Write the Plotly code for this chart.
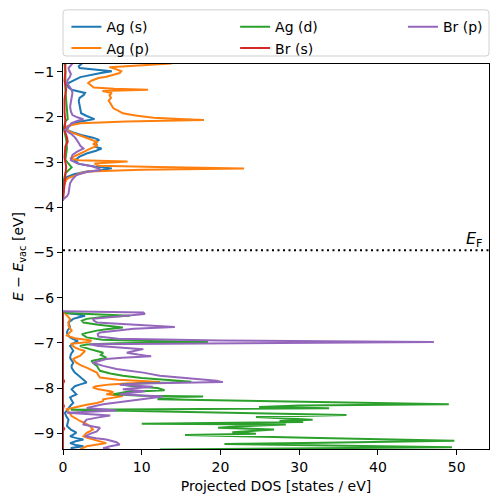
import plotly.graph_objects as go

# ---------------- data (energy in eV, DOS in states/eV) ----------------
# None marks the empty gap between the conduction and valence windows
ag_s_energy = [-0.82, -0.88, -0.92, -0.96, -0.99, -1.03, -1.07, -1.12, -1.18, -1.24, -1.29, -1.35, -1.40, -1.44,
               -1.47, -1.52, -1.58, -1.65, -1.73, -1.82, -1.92, -1.98, -2.05, -2.09, -2.14, -2.22, -2.29, -2.34,
               -2.40, -2.46, -2.51, -2.56, -2.62, -2.66, -2.70, -2.75, -2.81, -2.88, -2.96, -3.04, -3.10, -3.14,
               -3.18, -3.21, -3.27, -3.33, -3.45, -3.55, -3.70, -3.85, -5.00,
               -6.30, -6.34, -6.37, -6.40, -6.44, -6.47, -6.55, -6.60, -6.66, -6.72, -6.77, -6.83, -6.88, -6.92,
               -6.96, -7.00, -7.07, -7.12, -7.18, -7.25, -7.33, -7.39, -7.44, -7.50, -7.55, -7.61, -7.66, -7.73,
               -7.81, -7.88, -7.92, -7.96, -8.03, -8.09, -8.14, -8.18, -8.21, -8.27, -8.33, -8.38, -8.44, -8.50,
               -8.55, -8.62, -8.70, -8.77, -8.84, -8.92, -8.99, -9.03, -9.07, -9.11, -9.14, -9.18, -9.22, -9.26,
               -9.29, -9.33, -9.36]
ag_s_dos = [2.4, 2.0, 2.1, 4.5, 6.2, 4.8, 3.4, 2.2, 1.5, 0.8, 0.5, 0.7, 1.1, 2.0,
            2.8, 2.6, 2.1, 2.0, 2.1, 2.2, 2.3, 3.0, 4.0, 2.6, 1.2, 0.7, 0.5, 1.2,
            2.3, 3.8, 4.6, 4.1, 4.3, 4.0, 4.9, 4.2, 3.0, 2.1, 1.5, 2.0, 4.0, 6.2,
            4.8, 3.0, 1.4, 0.5, 0.2, 0.1, 0.0, 0.0, None,
            0.0, 0.3, 1.8, 2.8, 1.9, 1.3, 0.7, 0.8, 0.9, 0.6, 0.5, 0.6, 0.9, 1.3,
            1.9, 1.4, 0.9, 1.1, 1.3, 1.0, 0.9, 1.1, 1.3, 1.1, 1.1, 1.3, 1.5, 2.0,
            2.6, 3.0, 2.2, 1.5, 1.1, 1.4, 1.7, 1.2, 0.9, 1.1, 1.3, 1.0, 0.7, 0.4,
            0.25, 0.4, 0.7, 0.6, 0.5, 1.0, 1.7, 1.3, 0.9, 1.7, 2.6, 1.6, 0.9, 1.6,
            2.6, 1.0, 1.3]

ag_p_energy = [-0.82, -0.86, -0.90, -0.95, -0.99, -1.03, -1.07, -1.11, -1.14, -1.20, -1.25, -1.30, -1.35, -1.38,
               -1.40, -1.43, -1.47, -1.52, -1.58, -1.64, -1.70, -1.76, -1.81, -1.86, -1.92, -1.97, -2.02, -2.05,
               -2.07, -2.10, -2.14, -2.20, -2.25, -2.31, -2.36, -2.44, -2.51, -2.56, -2.60, -2.64, -2.69, -2.73,
               -2.77, -2.81, -2.86, -2.92, -2.96, -2.99, -3.03, -3.08, -3.11, -3.14, -3.17, -3.21, -3.26, -3.29,
               -3.35, -3.40, -3.55, -3.70, -3.85, -5.00,
               -6.30, -6.35, -6.40, -6.47, -6.55, -6.62, -6.68, -6.73, -6.78, -6.84, -6.90, -6.95, -6.98, -7.02,
               -7.06, -7.10, -7.14, -7.18, -7.23, -7.29, -7.33, -7.36, -7.44, -7.50, -7.55, -7.60, -7.66, -7.72,
               -7.77, -7.82, -7.85, -7.87, -7.90, -7.92, -7.96, -7.99, -8.03, -8.07, -8.10, -8.14, -8.18, -8.22,
               -8.25, -8.29, -8.33, -8.37, -8.40, -8.44, -8.47, -8.52, -8.57, -8.62, -8.67, -8.73, -8.78, -8.84,
               -8.88, -8.92, -8.96, -8.99, -9.03, -9.07, -9.11, -9.14, -9.18, -9.22, -9.25, -9.29, -9.33, -9.36]
ag_p_dos = [13.8, 9.0, 5.9, 6.8, 7.4, 7.2, 6.4, 5.5, 4.5, 3.6, 3.2, 3.5, 3.9, 6.5,
            10.8, 5.0, 6.2, 5.9, 6.1, 5.8, 6.0, 6.2, 6.4, 7.0, 7.6, 9.2, 11.5, 15.5,
            17.9, 8.0, 2.2, 0.6, 0.25, 0.7, 1.3, 2.6, 3.6, 4.4, 3.8, 4.4, 3.6, 3.2,
            2.7, 2.2, 1.5, 0.9, 2.0, 8.2, 4.0, 4.5, 12.0, 23.0, 10.0, 3.2, 2.0, 1.7,
            0.7, 0.4, 0.05, 0.0, 0.0, None,
            0.0, 0.25, 0.5, 0.9, 0.7, 0.7, 0.9, 1.1, 0.8, 0.5, 1.5, 3.6, 3.4, 1.1,
            1.2, 1.5, 2.0, 2.8, 2.5, 2.15, 1.6, 1.3, 1.7, 2.3, 3.0, 3.6, 4.3, 4.5,
            4.7, 7.0, 10.5, 12.3, 8.0, 6.0, 4.2, 3.8, 4.5, 6.0, 6.4, 5.5, 7.6, 6.2,
            5.1, 5.1, 4.3, 3.0, 2.15, 1.2, 0.5, 0.7, 0.9, 1.1, 1.6, 2.15, 2.8, 3.4,
            3.6, 3.8, 3.4, 3.0, 2.8, 2.6, 3.2, 3.8, 4.7, 5.5, 4.4, 3.0, 2.5, 2.15]

ag_d_energy = [-0.82, -1.00, -1.40, -2.05, -2.10, -2.25, -2.50, -2.70, -2.95, -3.05, -3.12, -3.18, -3.25,
               -3.40, -3.60, -3.85, -5.00,
               -6.30, -6.34, -6.37, -6.40, -6.43, -6.47, -6.51, -6.55, -6.60, -6.63, -6.66, -6.70, -6.73,
               -6.78, -6.81, -6.88, -6.93, -6.96, -6.98, -7.01, -7.04, -7.07, -7.10, -7.14, -7.18, -7.22,
               -7.27, -7.33, -7.37, -7.40, -7.46, -7.51, -7.57, -7.62, -7.68, -7.73, -7.78, -7.81, -7.84,
               -7.86, -7.89, -7.92, -7.96, -8.00, -8.05, -8.09, -8.14, -8.17, -8.19, -8.21, -8.25, -8.30,
               -8.36, -8.39, -8.42, -8.45, -8.48, -8.52, -8.56, -8.60, -8.64, -8.70, -8.73, -8.75, -8.79,
               -8.81, -8.85, -8.88, -8.92, -8.98, -9.01, -9.04, -9.10, -9.17, -9.21, -9.24, -9.28, -9.31,
               -9.34, -9.36]
ag_d_dos = [0.2, 0.3, 0.3, 0.6, 0.3, 0.1, 0.4, 0.5, 0.3, 0.8, 1.1, 0.7, 0.3,
            0.1, 0.0, 0.0, None,
            0.0, 0.5, 4.0, 8.5, 5.0, 3.0, 2.4, 2.6, 4.5, 6.5, 7.6, 5.5, 4.3,
            3.0, 2.4, 3.0, 5.0, 11.0, 18.4, 7.0, 3.0, 2.15, 2.6, 3.4, 4.3, 5.1,
            4.8, 5.5, 4.5, 3.6, 3.9, 4.3, 4.5, 4.7, 6.0, 7.6, 10.0, 12.3, 15.0,
            16.3, 11.0, 7.4, 8.8, 12.0, 12.9, 8.0, 6.4, 10.0, 17.8, 13.5, 12.0, 29.0,
            49.0, 30.0, 24.9, 33.8, 1.0, 12.7, 24.0, 36.0, 24.5, 31.7, 27.5, 30.5, 10.0,
            28.3, 22.0, 19.7, 26.8, 21.5, 24.5, 15.5, 31.0, 49.7, 33.0, 20.5, 36.0, 49.4,
            28.0, 12.3]

br_s_energy = [-0.82, -1.00, -1.20, -1.40, -1.60, -1.90, -2.10, -2.30, -2.45, -2.55, -2.65, -2.90, -3.10,
               -3.30, -3.50, -3.70, -3.85, -5.00,
               -6.30, -7.80, -7.85, -7.90, -8.35, -8.40, -8.45, -8.85, -8.90, -8.95, -9.36]
br_s_dos = [0.3, 0.3, 0.2, 0.4, 0.2, 0.2, 0.3, 0.2, 0.5, 0.6, 0.3, 0.2, 0.4,
            0.3, 0.2, 0.1, 0.0, None,
            0.0, 0.0, 0.15, 0.0, 0.0, 0.12, 0.0, 0.0, 0.15, 0.0, 0.0]

br_p_energy = [-0.82, -0.86, -0.92, -0.98, -1.05, -1.11, -1.18, -1.25, -1.32, -1.40, -1.47, -1.55, -1.65,
               -1.77, -1.88, -1.96, -2.01, -2.05, -2.09, -2.14, -2.18, -2.24, -2.29, -2.34, -2.40, -2.47,
               -2.54, -2.58, -2.64, -2.70, -2.77, -2.84, -2.90, -2.96, -3.03, -3.10, -3.15, -3.18, -3.22,
               -3.29, -3.38, -3.47, -3.58, -3.70, -3.76, -3.81, -3.85, -5.00,
               -6.30, -6.33, -6.36, -6.40, -6.44, -6.47, -6.51, -6.55, -6.58, -6.62, -6.65, -6.69, -6.72,
               -6.77, -6.81, -6.86, -6.91, -6.95, -6.98, -7.00, -7.03, -7.07, -7.10, -7.14, -7.18, -7.22,
               -7.26, -7.30, -7.33, -7.36, -7.44, -7.51, -7.58, -7.66, -7.73, -7.79, -7.84, -7.87, -7.90,
               -7.93, -7.97, -8.03, -8.07, -8.11, -8.14, -8.19, -8.23, -8.29, -8.36, -8.44, -8.47, -8.50,
               -8.55, -8.58, -8.61, -8.65, -8.70, -8.76, -8.81, -8.85, -8.88, -8.92, -8.96, -9.01, -9.07,
               -9.11, -9.14, -9.20, -9.25, -9.29, -9.33, -9.36]
br_p_dos = [1.2, 1.0, 0.7, 0.8, 1.0, 0.9, 0.6, 0.5, 0.8, 1.1, 1.2, 1.1, 1.0,
            0.9, 1.0, 1.2, 1.8, 2.6, 1.8, 1.1, 0.9, 0.5, 0.3, 0.7, 1.2, 1.6,
            1.8, 2.0, 2.2, 2.6, 1.8, 1.2, 1.1, 1.0, 1.8, 3.8, 4.6, 4.8, 3.0,
            1.7, 1.2, 0.9, 0.8, 0.7, 0.5, 0.1, 0.0, None,
            0.0, 10.2, 10.4, 8.1, 5.0, 3.8, 3.9, 4.3, 7.0, 12.0, 14.2, 9.0, 7.6,
            4.7, 4.4, 4.5, 7.0, 20.0, 47.1, 30.0, 3.4, 4.5, 6.8, 10.2, 9.0, 8.1,
            9.5, 11.2, 7.5, 5.5, 3.8, 5.1, 6.8, 10.2, 12.3, 16.0, 19.5, 20.3, 10.0,
            7.2, 11.4, 7.6, 10.4, 8.5, 7.2, 12.7, 11.0, 8.1, 5.1, 3.0, 5.0, 6.8,
            0.5, 3.0, 6.0, 4.5, 3.0, 2.7, 2.6, 3.8, 4.7, 4.5, 4.3, 3.5, 2.8,
            4.2, 5.5, 6.8, 7.2, 6.0, 5.1, 6.0]

series_names = ["Ag (s)", "Ag (p)", "Ag (d)", "Br (s)", "Br (p)"]
series_energy = [ag_s_energy, ag_p_energy, ag_d_energy, br_s_energy, br_p_energy]
series_dos = [ag_s_dos, ag_p_dos, ag_d_dos, br_s_dos, br_p_dos]
series_colors = ["#1f77b4", "#ff7f0e", "#2ca02c", "#d62728", "#9467bd"]
legend_ids = ["legend", "legend", "legend2", "legend2", "legend3"]

fermi_energy = -4.95
x_ticks = [0, 10, 20, 30, 40, 50]
y_ticks = [-1, -2, -3, -4, -5, -6, -7, -8, -9]

FONT = "DejaVu Sans"

fig = go.Figure()
for name, e, d, c, lg in zip(series_names, series_energy, series_dos, series_colors, legend_ids):
    fig.add_trace(go.Scatter(x=d, y=e, mode="lines", name=name, legend=lg, connectgaps=False,
                             line=dict(color=c, width=2), hoverinfo="skip"))

fig.add_hline(y=fermi_energy, line=dict(color="black", width=2, dash="2px,3.5px"))
fig.add_annotation(x=0.99, xref="paper", y=fermi_energy, yref="y", yshift=-2,
                   text="<i>E</i><sub>F</sub>", showarrow=False, xanchor="right", yanchor="bottom",
                   font=dict(family=FONT, size=16, color="black"))

# legend frame (rounded rectangle) in paper coordinates
x0, x1, y0, y1 = 0.0, 1.0, 1.0208, 1.1406
rx, ry = 0.007, 0.0078
path = (f"M {x0+rx},{y0} L {x1-rx},{y0} Q {x1},{y0} {x1},{y0+ry} L {x1},{y1-ry} Q {x1},{y1} {x1-rx},{y1} "
        f"L {x0+rx},{y1} Q {x0},{y1} {x0},{y1-ry} L {x0},{y0+ry} Q {x0},{y0} {x0+rx},{y0} Z")
fig.add_shape(type="path", path=path, xref="paper", yref="paper",
              line=dict(color="#d0d0d0", width=1), fillcolor="rgba(255,255,255,0.8)", layer="above")

leg_common = dict(orientation="v", yanchor="top", y=1.137, xanchor="left", bgcolor="rgba(0,0,0,0)",
                  borderwidth=0, font=dict(family=FONT, size=14, color="black"), tracegroupgap=0)

# the page body adds an 8 px offset, so the figure is 8 px smaller than the window
fig.update_layout(
    width=490, height=494,
    margin=dict(l=55, r=9, t=56, b=53, autoexpand=False),
    paper_bgcolor="white", plot_bgcolor="white",
    font=dict(family=FONT, size=14, color="black"),
    showlegend=True,
    legend=dict(x=0.008, **leg_common),
    legend2=dict(x=0.404, **leg_common),
    legend3=dict(x=0.798, **leg_common),
    xaxis=dict(range=[0, 54.1], tickvals=x_ticks, ticks="outside", ticklen=5, tickwidth=1,
               tickcolor="black", showline=True, linecolor="black", linewidth=1, mirror=True,
               showgrid=False, zeroline=False, layer="above traces", automargin=False,
               tickfont=dict(family=FONT, size=14),
               title=dict(text="Projected DOS [states / eV]", standoff=7,
                          font=dict(family=FONT, size=14))),
    yaxis=dict(range=[-9.35, -0.83], tickvals=y_ticks, ticks="outside", ticklen=5, tickwidth=1,
               tickcolor="black", showline=True, linecolor="black", linewidth=1, mirror=True,
               showgrid=False, zeroline=False, layer="above traces", automargin=False,
               tickfont=dict(family=FONT, size=14),
               title=dict(text="<i>E</i> − <i>E</i><sub>vac</sub> [eV]", standoff=6,
                          font=dict(family=FONT, size=14))),
)

fig.write_html("out.html")
